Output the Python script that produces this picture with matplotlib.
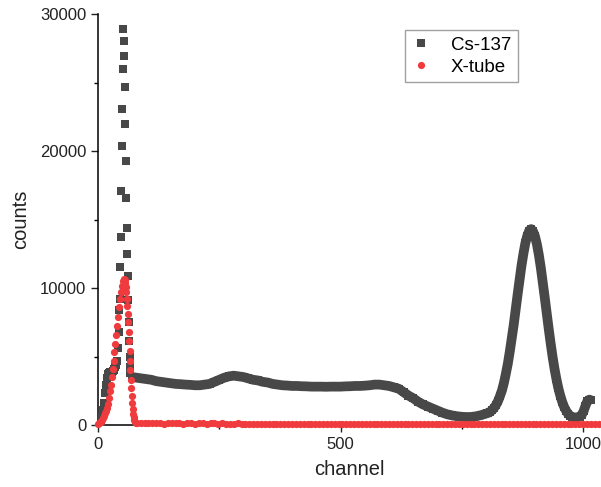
import matplotlib
matplotlib.use('Agg')
import matplotlib.pyplot as plt
from matplotlib.ticker import MultipleLocator

plt.rcParams['font.family'] = ['Liberation Sans', 'DejaVu Sans']

# Cs-137 spectrum
# low-energy part and the X-ray peak (single channels)
cs_peak_ch = [6, 8, 10, 12, 14, 16, 18, 20, 22, 24, 26, 28, 30, 32, 34, 36, 38, 40, 42, 43,
              44, 45, 46, 47, 48, 49, 50, 51, 52, 53, 54, 55, 56, 57, 58, 59, 60, 61, 62,
              63, 64, 65, 66, 67]
cs_peak_counts = [200, 600, 1100, 1600, 2300, 2900, 3400, 3700, 3800, 3850, 3800, 3900, 3950,
                  4000, 4100, 4200, 4400, 4700, 5600, 6800,
                  8400, 9200, 11500, 13700, 17100, 20400, 23100, 26000, 28900, 28000, 26900,
                  24700, 22000, 19300, 16600, 14400, 12500, 10900, 9100, 7500, 6100, 5000,
                  4200, 3800]

# Compton continuum, every 10 channels
cs_cont_ch = list(range(70, 800, 10))
cs_cont_counts = [3500, 3450, 3400, 3350, 3300, 3200, 3150, 3100, 3050, 3000,
                  2980, 2950, 2930, 2900, 2900, 2950, 3000, 3150, 3300, 3450,
                  3550, 3600, 3550, 3500, 3400, 3300, 3250, 3150, 3100, 3000,
                  2950, 2900, 2880, 2850, 2850, 2830, 2820, 2800, 2800, 2800,
                  2790, 2800, 2800, 2800, 2820, 2830, 2850, 2850, 2870, 2900,
                  2950, 2950, 2900, 2850, 2750, 2650, 2400, 2150, 1950, 1700,
                  1500, 1350, 1200, 1050, 900, 780, 700, 640, 600, 580,
                  590, 640, 720]

# photopeak region, every 4 channels
cs_photo_ch = list(range(801, 1021, 4))
cs_photo_counts = [850, 890, 980, 1100, 1270, 1490, 1770, 2140, 2550, 3100,
                   3770, 4490, 5370, 6310, 7300, 8430, 9510, 10560, 11610, 12490,
                   13270, 13810, 14180, 14300, 14130, 13760, 13170, 12390, 11460, 10410,
                   9310, 8180, 7070, 6010, 5020, 4140, 3370, 2700, 2150, 1690,
                   1320, 1040, 820, 680, 600, 560, 550, 560, 620, 720,
                   1000, 1400, 1750, 1850, 1800]

# X-tube spectrum
xt_peak_ch = [0, 2, 4, 6, 8, 10, 12, 14, 16, 18, 20, 22, 24, 26, 28, 30, 32, 34, 36, 38,
              40, 42, 44, 46, 48, 50, 52, 54, 55, 56, 57, 58, 59, 60, 61, 62, 63, 64, 65,
              66, 67, 68, 69, 70, 71, 72, 73, 74, 75, 76, 78]
xt_peak_counts = [100, 150, 200, 250, 350, 500, 650, 850, 1050, 1250, 1550, 1950, 2450, 2950,
                  3500, 4100, 4700, 5300, 5900, 6600, 7200, 7900, 8600, 9200, 9700, 10150,
                  10500, 10650, 10600, 10400, 10100, 9700, 9200, 8700, 8100, 7500, 6800,
                  6100, 5400, 4700, 4000, 3300, 2700, 2100, 1600, 1150, 800, 550, 350, 200,
                  120]
xt_tail_ch = list(range(80, 1040, 8))
xt_tail_counts = [160, 130, 120, 150, 110, 170, 130, 100, 160, 120,
                  110, 150, 100, 140, 130, 100, 120, 150, 100, 130,
                  110, 100, 120, 100, 90, 100, 110, 90, 100, 90,
                  100, 95, 100, 90, 100, 95, 90, 100, 95, 100,
                  90, 100, 95, 90, 100, 90, 95, 100, 90, 100,
                  95, 90, 100, 95, 90, 100, 95, 90, 100, 95,
                  90, 100, 95, 90, 100, 95, 90, 100, 95, 90,
                  100, 95, 90, 100, 95, 90, 100, 95, 90, 100,
                  95, 90, 100, 95, 90, 100, 95, 90, 100, 95,
                  90, 100, 95, 90, 100, 95, 90, 100, 95, 90,
                  100, 95, 90, 100, 95, 90, 100, 95, 90, 100,
                  95, 90, 100, 95, 90, 100, 95, 90, 100, 95]

cs_color = '#484848'
xt_color = '#EF3B3E'

fig = plt.figure(figsize=(6.01, 4.87), dpi=100)
ax = fig.add_axes([98/601, 1 - 425/487, 1 - 98/601, (425 - 14)/487])

cs_ch = cs_peak_ch + cs_cont_ch + cs_photo_ch
cs_counts = cs_peak_counts + cs_cont_counts + cs_photo_counts
xt_ch = xt_peak_ch + xt_tail_ch
xt_counts = xt_peak_counts + xt_tail_counts

# thick stroke through the dense part of the spectrum
line_ch = cs_cont_ch + cs_photo_ch
line_counts = cs_cont_counts + cs_photo_counts
ax.plot(line_ch, line_counts, color=cs_color, lw=7, solid_capstyle='butt',
        solid_joinstyle='round', zorder=2)
ax.plot(cs_ch, cs_counts, 's', color=cs_color, ms=6, mew=0, label='Cs-137', zorder=3)
ax.plot(xt_ch, xt_counts, 'o', color=xt_color, ms=5.2, mew=0, label='X-tube', zorder=5,
        clip_on=False)

ax.set_xlim(0, 1037)
ax.set_ylim(0, 30000)
ax.xaxis.set_major_locator(MultipleLocator(500))
ax.xaxis.set_minor_locator(MultipleLocator(250))
ax.yaxis.set_major_locator(MultipleLocator(10000))
ax.yaxis.set_minor_locator(MultipleLocator(5000))
ax.spines['top'].set_visible(False)
ax.spines['right'].set_visible(False)
for s in ['left', 'bottom']:
    ax.spines[s].set_linewidth(1.1)
ax.tick_params(which='major', direction='out', length=5, width=1.0, labelsize=12,
               pad=3.5, colors='#222222')
ax.tick_params(which='minor', direction='out', length=3, width=1.0)
ax.set_xlabel('channel', fontsize=14.5, labelpad=6, color='#222222')
ax.set_ylabel('counts', fontsize=14.5, labelpad=7, color='#222222')

leg = ax.legend(loc='upper left', bbox_to_anchor=(0.610, 0.961), borderaxespad=0,
                fontsize=13.5, frameon=True, fancybox=False, edgecolor='#888888',
                handlelength=1.0, handletextpad=1.1, labelspacing=0.25,
                borderpad=0.35, markerscale=1.0)
leg.get_frame().set_linewidth(1.0)

fig.savefig('out.png', dpi=100)
